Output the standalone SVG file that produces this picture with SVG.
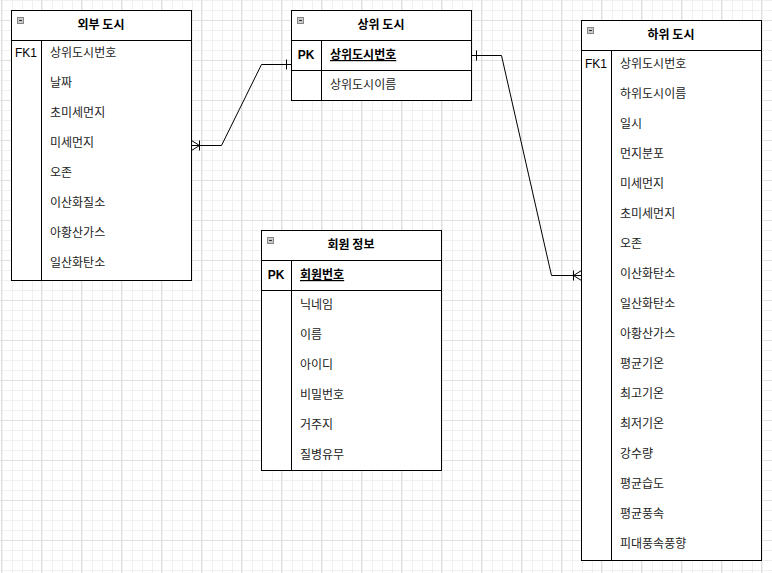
<svg xmlns="http://www.w3.org/2000/svg" width="772" height="573" viewBox="0 0 772 573">
<defs>
<pattern id="minor" x="1" y="0" width="10" height="10" patternUnits="userSpaceOnUse">
<path d="M0.5 0V10M0 0.5H10" fill="none" stroke="#f0f0f0" stroke-width="1"/>
</pattern>
<pattern id="major" x="1" y="20" width="40" height="40" patternUnits="userSpaceOnUse">
<rect width="40" height="40" fill="url(#minor)"/>
<path d="M0.5 0V40M0 0.5H40" fill="none" stroke="#e0e0e0" stroke-width="1"/>
</pattern>
<g id="icon">
<rect x="0.5" y="0.5" width="6" height="6" fill="#c8c8c8" stroke="#888"/>
<path d="M2 3.5H5" stroke="#333" stroke-width="1"/>
</g>
</defs>
<style>
.box{fill:#fff;stroke:#000;stroke-width:1}
.ln{fill:none;stroke:#000;stroke-width:1}
text{font-family:"Noto Sans CJK KR","Liberation Sans",sans-serif;font-size:12px;fill:#222}
.title{font-weight:bold;fill:#000;text-anchor:middle}
.key{text-anchor:middle;fill:#000;font-family:"Liberation Sans","Noto Sans CJK KR",sans-serif}
.pk{font-weight:bold}
.pkf{font-weight:bold;text-decoration:underline;fill:#000}
</style>
<rect width="772" height="573" fill="#fff"/>
<rect width="772" height="573" fill="url(#major)"/>

<g id="connectors">
<path class="ln" d="M191.5 145.5H221.5L261.5 64.5H291.5"/>
<path class="ln" d="M191.5 140.5L199.5 145.5L191.5 150.5M199.5 140.5V150.5"/>
<path class="ln" d="M286.5 59.5V69.5"/>
<path class="ln" d="M471.5 55.5H501.5L551.5 275.5H581.5"/>
<path class="ln" d="M476.5 50.5V60.5"/>
<path class="ln" d="M581.5 270.5L573.5 275.5L581.5 280.5M573.5 270.5V280.5"/>
</g>

<g id="outer-city">
<rect class="box" x="11.5" y="10.5" width="180" height="270"/>
<path class="ln" d="M11.5 40.5H191.5M41.5 40.5V280.5"/>
<use href="#icon" x="17" y="17"/>
<text class="title" x="101" y="29">외부 도시</text>
<text class="key" x="26" y="57">FK1</text>
<text x="50" y="57">상위도시번호</text>
<text x="50" y="87">날짜</text>
<text x="50" y="117">초미세먼지</text>
<text x="50" y="147">미세먼지</text>
<text x="50" y="177">오존</text>
<text x="50" y="207">이산화질소</text>
<text x="50" y="237">아황산가스</text>
<text x="50" y="267">일산화탄소</text>
</g>

<g id="upper-city">
<rect class="box" x="291.5" y="10.5" width="180" height="90"/>
<path class="ln" d="M291.5 40.5H471.5M291.5 70.5H471.5M321.5 40.5V100.5"/>
<use href="#icon" x="297" y="17"/>
<text class="title" x="381" y="29">상위 도시</text>
<text class="key pk" x="306" y="59">PK</text>
<text class="pkf" x="330" y="59">상위도시번호</text>
<text x="330" y="89">상위도시이름</text>
</g>

<g id="member-info">
<rect class="box" x="261.5" y="230.5" width="180" height="240"/>
<path class="ln" d="M261.5 260.5H441.5M261.5 290.5H441.5M291.5 260.5V470.5"/>
<use href="#icon" x="267" y="237"/>
<text class="title" x="351" y="249">회원 정보</text>
<text class="key pk" x="276" y="279">PK</text>
<text class="pkf" x="300" y="279">회원번호</text>
<text x="300" y="309">닉네임</text>
<text x="300" y="339">이름</text>
<text x="300" y="369">아이디</text>
<text x="300" y="399">비밀번호</text>
<text x="300" y="429">거주지</text>
<text x="300" y="459">질병유무</text>
</g>

<g id="lower-city">
<rect class="box" x="581.5" y="20.5" width="180" height="540"/>
<path class="ln" d="M581.5 50.5H761.5M611.5 50.5V560.5"/>
<use href="#icon" x="587" y="27"/>
<text class="title" x="671" y="39">하위 도시</text>
<text class="key" x="596" y="68">FK1</text>
<text x="620" y="68">상위도시번호</text>
<text x="620" y="98">하위도시이름</text>
<text x="620" y="128">일시</text>
<text x="620" y="158">먼지분포</text>
<text x="620" y="188">미세먼지</text>
<text x="620" y="218">초미세먼지</text>
<text x="620" y="248">오존</text>
<text x="620" y="278">이산화탄소</text>
<text x="620" y="308">일산화탄소</text>
<text x="620" y="338">아황산가스</text>
<text x="620" y="368">평균기온</text>
<text x="620" y="398">최고기온</text>
<text x="620" y="428">최저기온</text>
<text x="620" y="458">강수량</text>
<text x="620" y="488">평균습도</text>
<text x="620" y="518">평균풍속</text>
<text x="620" y="548">피대풍속풍향</text>
</g>
</svg>
